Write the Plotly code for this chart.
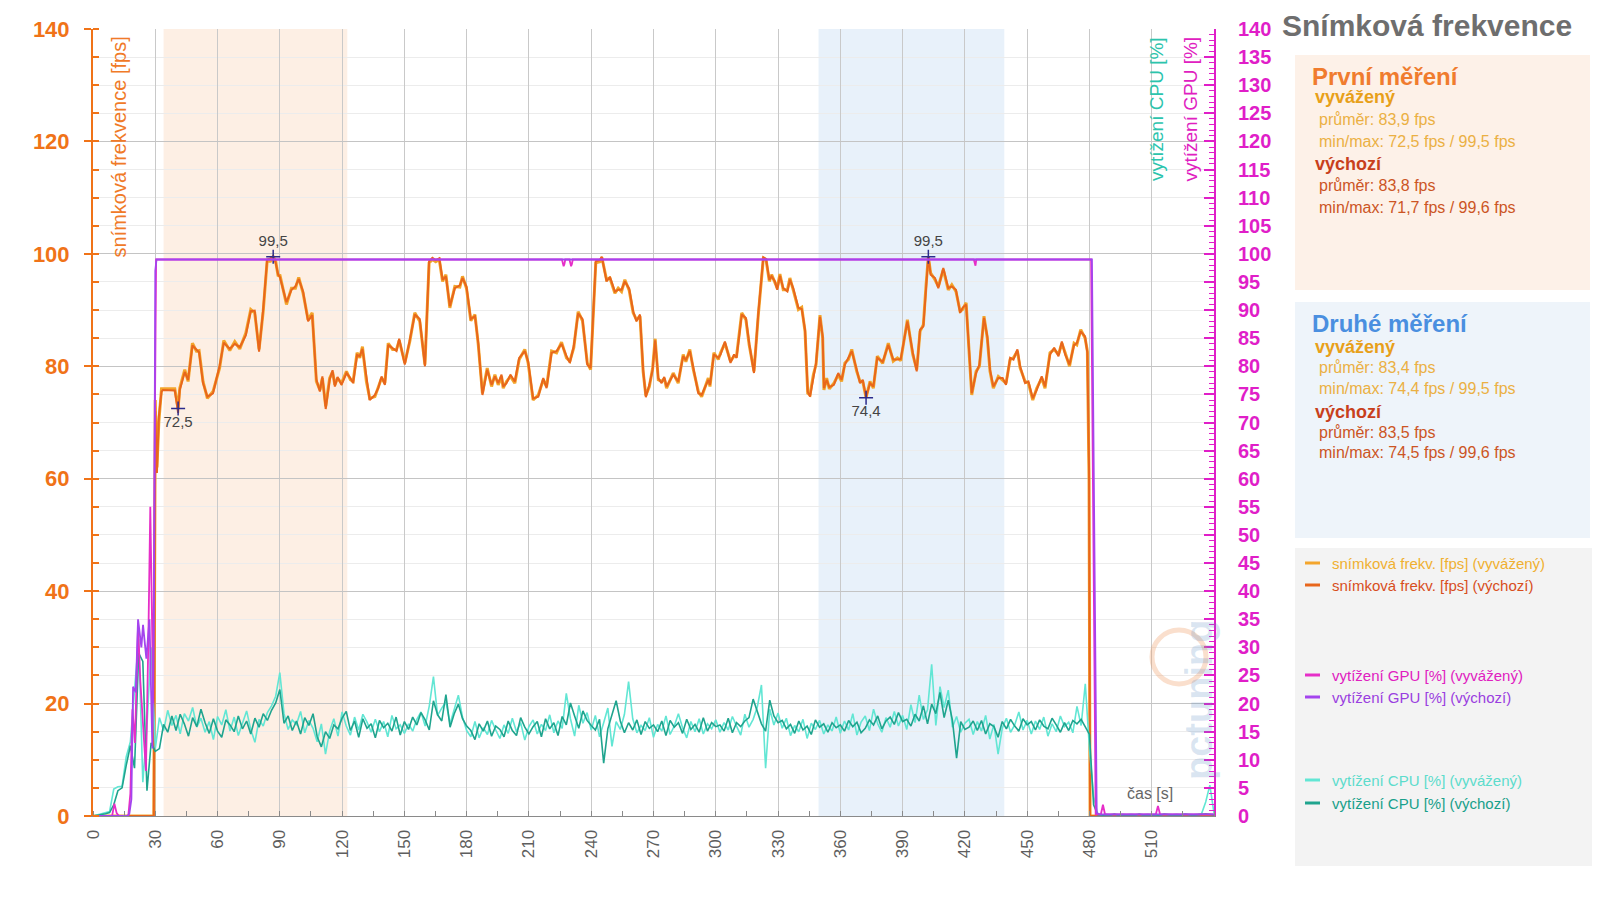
import plotly.graph_objects as go

# ---------------- DATA ----------------
fps_time = [
    0, 29.3, 30, 30.8, 31.7, 33, 33.7, 39.4, 41, 41.8,
    44.2, 45.8, 47.9, 49.8, 51.1, 53, 55.1, 57.8, 61, 63,
    65.9, 68.3, 70.7, 73.6, 76, 77.9, 80, 82, 83.9, 85.5,
    86.8, 88, 89.2, 90, 93.2, 95.6, 97.5, 99.1, 101.2, 103.6,
    105.6, 107.6, 109.3, 110.5, 112.1, 114, 115.4, 116.5, 117.8, 119.7,
    122.1, 124, 125.3, 127.2, 128.5, 129.8, 131.7, 133.3, 135.8, 137.4,
    139, 140.6, 142.2, 144.3, 146.2, 147.5, 150.2, 152.6, 155, 157.4,
    159.9, 161.9, 163.5, 165.1, 166.8, 168.4, 170, 171.9, 174.3, 176.7,
    178, 179.9, 182, 184, 185.6, 187.6, 189.9, 192, 193.6, 195.2,
    196.8, 197.6, 199.2, 201.1, 203.2, 205.3, 208, 209.6, 212, 214.5,
    216.9, 218.5, 220.9, 223.3, 225.7, 228.1, 229.7, 231.6, 233.7, 235.8,
    238.1, 239.7, 242.2, 244.2, 245.1, 247.4, 249, 251.4, 253, 254.6,
    256.2, 258.3, 260.2, 261.8, 263.5, 265, 266.3, 268, 269.6, 270.8,
    272.3, 273.9, 275.2, 276.3, 279.5, 281.9, 284.3, 285.6, 287.5, 289.2,
    291.6, 293.2, 294.8, 296.4, 297.2, 299.1, 301.2, 302.3, 304.4, 307.1,
    308.8, 310, 312.5, 314.5, 316.1, 318.4, 320.5, 321.6, 322.9, 324.2,
    325.8, 326.9, 328.5, 329.6, 330.9, 332.5, 334.5, 335.7, 337.3, 339.8,
    341.4, 343, 344.3, 345.4, 347, 348.3, 350.2, 351.5, 352.1, 353.4,
    354.7, 356.9, 359, 360.6, 362.2, 363.9, 365.5, 367.9, 369.5, 370.8,
    372.4, 374.3, 375.9, 377.8, 380.4, 383.1, 385.5, 387.5, 389.1, 392.3,
    394.9, 396.8, 398.4, 400, 401.3, 402.4, 403.5, 405.6, 407.2, 409.6,
    412, 413.7, 415.7, 417.7, 418.9, 420.6, 422.2, 423.3, 425.4, 427,
    429.2, 430.8, 432.1, 433.7, 436.1, 438.2, 439.8, 441.8, 443.4, 445.3,
    446.6, 449, 450.6, 452.7, 454.6, 457, 458.6, 461, 463, 465.1,
    466.7, 468.3, 470.4, 472.6, 473.9, 475.8, 477.9, 479, 479.8, 480.3,
    540,
]
fps_vyvazeny = [
    0, 0, 74, 62, 70, 76, 76.0, 76.0, 72.5, 76.1,
    79.4, 77.3, 84.1, 82.7, 82.8, 77.3, 74.3, 75.5, 79.7, 84.6,
    82.8, 84.4, 83.1, 85.9, 90.1, 89.5, 83.0, 89.8, 98.8, 98.7,
    99.5, 98.7, 96.0, 96.3, 91.0, 93.9, 93.9, 95.8, 93.0, 88.3,
    89.5, 77.3, 75.8, 77.9, 72.9, 77.9, 79.0, 76.7, 77.9, 77.0,
    79.1, 77.6, 77.3, 82.4, 81.5, 83.5, 77.3, 74.3, 74.6, 76.4,
    77.9, 77.0, 84.1, 83.0, 83.0, 84.6, 80.6, 84.4, 89.5, 88.0,
    80.3, 98.4, 99.0, 98.6, 99.0, 95.1, 96.3, 90.4, 94.2, 94.1,
    96.0, 93.9, 88.1, 89.2, 83.8, 75.2, 79.7, 76.4, 78.5, 76.7,
    78.2, 76.1, 77.3, 78.2, 77.0, 81.2, 83.0, 80.6, 74.0, 74.9,
    77.6, 76.4, 82.7, 82.4, 84.3, 81.5, 80.9, 83.3, 89.7, 88.1,
    80.6, 79.4, 98.4, 98.6, 99.4, 95.4, 95.7, 93.0, 93.9, 93.3,
    95.4, 93.5, 89.5, 88.3, 88.9, 79.1, 74.8, 76.4, 79.7, 84.9,
    77.6, 77.3, 77.8, 76.1, 78.8, 77.0, 82.1, 80.8, 83.0, 79.4,
    75.5, 74.6, 76.1, 77.9, 76.4, 82.4, 81.2, 82.4, 84.1, 80.9,
    81.8, 81.8, 89.5, 88.3, 83.8, 79.1, 89.2, 93.9, 99.2, 99.0,
    95.1, 96.3, 94.8, 93.9, 96.4, 93.6, 93.6, 95.7, 93.6, 90.1,
    90.5, 86.2, 75.2, 74.9, 78.5, 80.3, 89.1, 85.0, 75.8, 77.9,
    76.0, 77.0, 78.5, 77.3, 80.6, 81.2, 83.0, 79.1, 77.3, 77.3,
    74.4, 77.3, 76.1, 81.8, 80.5, 84.1, 80.9, 81.5, 81.0, 88.3,
    82.1, 79.4, 86.2, 87.4, 94.5, 99.5, 96.6, 95.4, 94.2, 97.2,
    93.6, 94.5, 93.3, 89.8, 90.1, 91.3, 81.5, 74.9, 79.1, 80.0,
    88.9, 85.0, 79.1, 76.1, 78.2, 77.6, 77.0, 81.2, 81.5, 82.7,
    79.7, 77.3, 77.0, 74.0, 76.1, 77.9, 76.1, 82.4, 83.0, 82.1,
    84.1, 82.4, 80.0, 84.1, 83.8, 86.5, 85.0, 82.7, 60, 0,
    0,
]
fps_vychozi = [
    0, 0, 72, 61, 71, 75.5, 75.8, 75.7, 71.7, 75.8,
    79.0, 77.6, 83.7, 82.9, 82.5, 77.0, 74.6, 75.2, 80.1, 84.2,
    83.1, 84.0, 83.4, 85.5, 89.8, 89.9, 82.6, 90.2, 99.0, 99.2,
    99.6, 98.4, 96.3, 95.9, 91.4, 93.6, 94.2, 95.5, 93.3, 88.0,
    89.1, 77.7, 75.5, 78.2, 72.4, 77.6, 79.3, 76.4, 78.1, 76.7,
    78.8, 77.9, 77.0, 82.0, 81.8, 83.1, 77.6, 74.0, 74.9, 76.1,
    78.2, 76.7, 83.8, 83.3, 82.7, 84.9, 80.3, 84.7, 89.2, 88.4,
    80.0, 98.7, 99.3, 98.9, 99.2, 95.4, 96.0, 90.7, 93.9, 94.4,
    95.7, 94.2, 88.4, 88.9, 84.1, 74.9, 79.4, 76.7, 78.2, 77.0,
    78.5, 76.4, 77.0, 78.5, 77.3, 81.5, 82.7, 80.9, 74.3, 74.6,
    77.9, 76.1, 82.4, 82.7, 84.0, 81.8, 80.6, 83.6, 89.4, 88.4,
    80.3, 79.7, 98.7, 98.9, 99.5, 95.1, 95.9, 93.3, 93.6, 93.6,
    95.1, 93.8, 89.8, 88.0, 89.2, 79.4, 74.5, 76.7, 79.4, 84.6,
    77.9, 77.0, 78.1, 76.4, 78.5, 77.3, 81.8, 81.1, 82.7, 79.7,
    75.2, 74.9, 76.4, 77.6, 76.7, 82.1, 81.5, 82.1, 84.4, 80.6,
    82.1, 81.5, 89.2, 88.6, 84.1, 78.8, 89.5, 94.2, 99.4, 99.1,
    95.4, 96.0, 95.1, 93.6, 96.1, 93.9, 93.3, 95.4, 93.9, 90.4,
    90.2, 86.5, 75.5, 74.6, 78.2, 80.6, 88.8, 85.3, 76.1, 77.6,
    76.3, 76.7, 78.8, 77.6, 80.3, 81.5, 82.7, 79.4, 77.0, 77.6,
    74.5, 77.0, 76.4, 81.5, 80.8, 83.8, 81.2, 81.2, 81.3, 88.0,
    82.4, 79.1, 86.5, 87.1, 94.8, 99.6, 96.3, 95.7, 93.9, 97.5,
    93.9, 94.2, 93.6, 89.5, 90.4, 91.0, 81.8, 75.2, 78.8, 80.3,
    88.6, 85.3, 79.4, 76.4, 77.9, 77.9, 76.7, 81.5, 81.2, 83.0,
    80.0, 77.0, 77.3, 74.3, 75.8, 78.2, 76.4, 82.1, 83.3, 81.8,
    84.4, 82.1, 80.3, 83.8, 84.1, 86.2, 85.3, 82.4, 62, 0,
    0,
]

gpu_vyv_time = [
    0, 9.2, 10.3, 11.4, 12.5, 17.0, 18.0, 19.0, 20.2, 21.7,
    22.8, 24.0, 25.5, 26.6, 27.6, 28.3, 29.0, 29.8, 30.4, 225.9,
    226.3, 226.7, 227.1, 227.5, 229.5, 229.9, 230.3, 230.7, 231.1, 424.3,
    424.7, 425.1, 425.5, 480.8, 483.0, 485.5, 486.5, 487.5, 512.0, 513.0,
    514.0, 540,
]
gpu_vyvazeny = [
    0, 0, 2.2, 0.5, 0, 0, 4, 19, 13, 34,
    24, 16, 8, 30, 55, 38, 20, 70, 99, 99,
    98.2, 97.8, 98.2, 99, 99, 98.2, 97.8, 98.2, 99, 99,
    98.2, 97.9, 99, 99, 0.3, 0.3, 2.0, 0.3, 0.3, 1.8,
    0.3, 0.3,
]
gpu_vych_time = [0, 16.5, 17.5, 18.5, 19.3, 20.6, 21.7, 23.3, 24.1, 25.7,
                 27.2, 28.6, 29.4, 30.0, 30.6, 481.2, 483.5, 485, 540]
gpu_vychozi = [0, 0, 0.4, 3, 23, 22, 35, 30, 34, 28,
               35, 12, 40, 97, 99, 99, 0.5, 0.3, 0.3]

cpu_time = list(range(0, 541, 2))
cpu_vyv_pre = [0, 0.2, 0.3, 0.5, 0.8, 4.8, 5.2, 5.3, 10.5, 13.2, 22.0, 31.5, 6.0, 16.0, 30.0, 12.0]
cpu_vyv_main = [
    17.5, 15.2, 18.8, 16.1, 17.9, 14.6, 18.2, 16.9, 19.3, 15.8, 17.4, 14.9, 16.8, 13.6, 17.7,
    16.2, 18.9, 15.1, 17.6, 14.3, 16.5, 18.7, 15.4, 13.1, 17.2, 16.0, 18.4, 19.6, 21.3, 25.5,
    18.2, 15.4, 17.1, 16.3, 18.6, 14.8, 17.0, 15.6, 13.2, 16.4, 11.0, 15.1, 17.3, 14.2, 18.5,
    16.0, 14.4, 17.6, 15.3, 18.1, 16.7, 14.9, 17.2, 15.0, 16.8, 14.1, 17.9, 15.5, 16.2, 14.7,
    16.4, 15.1, 17.2, 18.5, 16.0, 19.6, 24.8, 17.9, 19.2, 20.3, 16.4, 18.8, 21.5, 17.6, 15.2,
    14.1, 16.8, 13.9, 15.7, 14.5, 17.0, 15.3, 13.8, 16.2, 14.7, 17.4, 15.0, 16.6, 13.5, 15.9,
    17.1, 14.6, 16.3, 15.2, 18.0, 14.8, 16.9, 15.6, 21.8, 17.3, 14.2, 19.7, 16.5, 18.4, 15.3,
    17.9, 14.1, 16.6, 19.2, 12.4, 16.8, 15.4, 18.1, 23.9, 17.3, 14.8, 16.1, 15.2, 17.5, 14.0,
    16.3, 15.1, 17.8, 14.5, 16.0, 18.2, 15.7, 13.9, 16.8, 15.0, 17.3, 14.6, 16.4, 15.5, 17.1,
    14.9, 16.6, 15.3, 17.7, 16.0, 14.4, 18.1, 15.8, 17.2, 19.4, 23.3, 8.5, 19.0, 16.2, 18.3,
    15.6, 17.4, 14.3, 16.1, 15.0, 17.2, 13.8, 16.5, 15.4, 17.0, 14.6, 16.2, 15.1, 17.6, 14.7,
    16.9, 15.3, 18.2, 14.4, 16.7, 17.8, 15.2, 19.0, 16.4, 14.9, 17.5, 15.8, 18.6, 16.0, 17.9,
    15.4, 19.8, 16.6, 21.5, 17.2, 18.9, 27.0, 16.1, 23.0, 19.3, 22.4, 15.8, 17.7, 14.9, 16.5,
    17.2, 14.5, 16.8, 15.1, 17.9, 13.7, 16.3, 11.0, 15.6, 17.4, 14.9, 16.2, 18.5, 15.3, 17.0,
    14.6, 16.9, 15.4, 17.6, 14.2, 16.4, 15.0, 17.8, 15.9, 16.7, 14.8, 19.5, 16.1, 23.5, 12.0,
]
cpu_vyv_post = [3.5, 0.3, 0.2, 0.3, 0.2, 0.4, 0.2, 0.3, 0.2, 0.3,
                0.2, 0.4, 0.2, 0.3, 0.2, 0.3, 0.2, 0.4, 0.3, 0.2,
                0.3, 0.2, 0.4, 0.3, 0.2, 0.3, 0.4, 2.5, 5.5, 0.5]

cpu_vych_pre = [0, 0.1, 0.2, 0.4, 0.6, 2.0, 4.5, 5.0, 9.0, 12.5, 8.5, 29.0, 27.5, 4.5, 13.0, 11.5]
cpu_vych_main = [
    12.0, 16.3, 14.9, 17.8, 15.2, 18.1, 16.4, 14.2, 17.5, 15.9, 19.0, 16.6, 14.7, 17.3, 15.1,
    14.0, 17.1, 16.2, 15.0, 17.8, 15.5, 16.9, 14.6, 17.4, 15.8, 18.2, 17.0, 18.8, 20.1, 22.5,
    16.5, 17.8, 15.2, 16.9, 14.6, 17.5, 16.1, 18.2, 14.1, 12.3, 15.0, 13.8, 16.2, 15.5, 17.4,
    18.6, 15.2, 16.9, 14.0, 17.3, 15.6, 16.4, 13.9, 17.0, 15.7, 16.5, 15.1, 17.6, 14.4, 16.8,
    15.4, 17.6, 16.2, 18.4, 17.1, 15.3, 20.5, 18.0, 16.9, 21.6, 15.8, 18.2, 19.9, 17.3, 16.0,
    15.2, 13.6, 16.4, 15.1, 16.9, 14.2, 16.0, 15.4, 14.1, 16.9, 15.2, 14.3, 17.5, 15.8, 14.6,
    15.9, 16.8, 14.1, 17.3, 15.5, 16.6, 14.3, 17.7, 16.2, 20.1, 17.8, 15.6, 18.7, 17.0, 16.1,
    15.3, 17.2, 9.4, 15.5, 18.0, 20.5, 16.9, 14.8, 16.6, 15.3, 17.1, 14.5, 16.8, 15.6, 16.2,
    15.0, 16.9, 14.3, 17.0, 15.8, 16.6, 14.7, 17.2, 15.4, 16.3, 14.9, 17.5, 15.1, 16.6, 15.9,
    16.2, 15.1, 17.4, 14.8, 16.6, 15.9, 16.9, 17.5, 20.8, 18.6, 16.4, 15.1, 20.6, 17.8, 16.6,
    17.0, 15.5, 16.3, 14.7, 16.9, 15.3, 16.0, 14.5, 17.1, 15.8, 16.4, 14.9, 16.6, 15.7, 16.2,
    15.1, 17.0, 15.9, 16.7, 14.8, 15.6, 17.1, 16.2, 17.8, 15.5, 16.9, 17.6, 16.3, 18.4, 16.8,
    17.2, 16.0, 18.1, 16.9, 19.6, 16.4, 19.9, 18.2, 22.0, 17.5, 20.6, 17.0, 10.3, 16.8, 15.4,
    15.8, 16.9, 15.2, 17.0, 14.6, 16.4, 15.9, 14.0, 16.8, 15.5, 17.2, 16.0, 15.1, 17.3, 16.2,
    16.8, 15.3, 17.1, 16.0, 15.5, 17.4, 16.2, 14.9, 16.6, 15.2, 17.0, 16.4, 17.2, 15.8, 14.5,
]
cpu_vych_post = [2.0, 0.2, 0.1, 0.2, 0.1, 0.3, 0.1, 0.2, 0.1, 0.2,
                 0.1, 0.3, 0.1, 0.2, 0.1, 0.2, 0.1, 0.3, 0.2, 0.1,
                 0.2, 0.1, 0.3, 0.2, 0.1, 0.2, 0.3, 0.4, 0.3, 0.2]

cpu_vyvazeny = cpu_vyv_pre + cpu_vyv_main + cpu_vyv_post
cpu_vychozi = cpu_vych_pre + cpu_vych_main + cpu_vych_post

extrema_time = [41, 86.8, 372.4, 402.4]
extrema_value = [72.5, 99.5, 74.4, 99.5]
extrema_label = ["72,5", "99,5", "74,4", "99,5"]
extrema_pos = ["bottom center", "top center", "bottom center", "top center"]

region_first = [34, 122.5]
region_second = [349.5, 439]

x_ticks = list(range(0, 540, 30))

stats_first = [("vyvážený", "průměr: 83,9 fps", "min/max: 72,5 fps / 99,5 fps"),
               ("výchozí", "průměr: 83,8 fps", "min/max: 71,7 fps / 99,6 fps")]
stats_second = [("vyvážený", "průměr: 83,4 fps", "min/max: 74,4 fps / 99,5 fps"),
                ("výchozí", "průměr: 83,5 fps", "min/max: 74,5 fps / 99,6 fps")]

# ---------------- STYLE ----------------
FONT = "Liberation Sans, Arial, sans-serif"
C_FPS_VYV = "#f3a52c"
C_FPS_VYCH = "#e8661c"
C_GPU_VYV = "#e62ec8"
C_GPU_VYCH = "#a444ee"
C_CPU_VYV = "#62e6d4"
C_CPU_VYCH = "#1fa48e"
C_ORANGE_AX = "#f07318"
C_MAGENTA_AX = "#e01ec8"

W, H = 1600, 902
L, R, T, B = 93, 1214, 29, 816


def fx(px):
    return (px - L) / (R - L)


def fy(py):
    return (B - py) / (B - T)


fig = go.Figure()

fig.add_trace(go.Scatter(x=cpu_time, y=cpu_vyvazeny, mode="lines", yaxis="y2",
                         line=dict(color=C_CPU_VYV, width=1.6), name="vytížení CPU [%] (vyvážený)"))
fig.add_trace(go.Scatter(x=cpu_time, y=cpu_vychozi, mode="lines", yaxis="y2",
                         line=dict(color=C_CPU_VYCH, width=1.6), name="vytížení CPU [%] (výchozí)"))
fig.add_trace(go.Scatter(x=gpu_vyv_time, y=gpu_vyvazeny, mode="lines", yaxis="y2",
                         line=dict(color=C_GPU_VYV, width=1.8),
                         name="vytížení GPU [%] (vyvážený)"))
fig.add_trace(go.Scatter(x=gpu_vych_time, y=gpu_vychozi, mode="lines", yaxis="y2",
                         line=dict(color=C_GPU_VYCH, width=1.8), name="vytížení GPU [%] (výchozí)"))
fig.add_trace(go.Scatter(x=fps_time, y=fps_vyvazeny, mode="lines",
                         line=dict(color=C_FPS_VYV, width=3), name="snímková frekv. [fps] (vyvážený)"))
fig.add_trace(go.Scatter(x=fps_time, y=fps_vychozi, mode="lines",
                         line=dict(color=C_FPS_VYCH, width=2), name="snímková frekv. [fps] (výchozí)"))
fig.add_trace(go.Scatter(x=extrema_time, y=extrema_value, mode="markers+text",
                         text=extrema_label, textposition=extrema_pos,
                         textfont=dict(family=FONT, size=15, color="#444444"),
                         marker=dict(symbol="cross-thin", size=10,
                                     line=dict(width=1.5, color="#2b2b8c")),
                         cliponaxis=False))

shapes = []
shapes.append(dict(type="rect", xref="x", yref="paper", x0=region_first[0], x1=region_first[1],
                   y0=0, y1=1, fillcolor="#fdefe4", line=dict(width=0), layer="below"))
shapes.append(dict(type="rect", xref="x", yref="paper", x0=region_second[0], x1=region_second[1],
                   y0=0, y1=1, fillcolor="#e8f1fa", line=dict(width=0), layer="below"))

# side panels
panels = [((1295, 55, 1590, 290), "#fdf1e8"),
          ((1295, 302, 1590, 538), "#eef4fa"),
          ((1295, 548, 1592, 866), "#f3f3f3")]
for (x0, y0, x1, y1), col in panels:
    shapes.append(dict(type="rect", xref="paper", yref="paper", x0=fx(x0), x1=fx(x1),
                       y0=fy(y1), y1=fy(y0), fillcolor=col, line=dict(width=0), layer="below"))

annotations = []


def txt(text, px, py, size, color, bold=False, xanchor="left", angle=0, yanchor="middle"):
    annotations.append(dict(text=text, xref="paper", yref="paper", x=fx(px), y=fy(py),
                            xanchor=xanchor, yanchor=yanchor, showarrow=False, textangle=angle,
                            font=dict(family=FONT, size=size, color=color,
                                      weight="bold" if bold else "normal")))


# watermark
shapes.append(dict(type="circle", xref="paper", yref="paper", x0=fx(1152), x1=fx(1206),
                   y0=fy(684), y1=fy(630), line=dict(color="rgba(240,150,90,0.3)", width=5)))
txt("pctuning", 1199, 700, 38, "rgba(90,140,195,0.22)", bold=True, xanchor="center", angle=-90)

txt("Snímková frekvence", 1280, 25, 30, "#6e6e6e", bold=True)

# panel texts
txt("První měření", 1310, 76, 24, "#f07c2e", bold=True)
txt("Druhé měření", 1310, 323, 24, "#4a8fe0", bold=True)
rows_first = [97, 119, 141, 164, 185, 207]
rows_second = [347, 367, 388, 412, 432, 453]
head_cols = ["#e8a019", "#c8401c"]
body_cols = ["#ebb043", "#cc5524"]
for stats, rows in ((stats_first, rows_first), (stats_second, rows_second)):
    for i, (head, avg, mm) in enumerate(stats):
        txt(head, 1313, rows[3 * i], 18, head_cols[i], bold=True)
        txt(avg, 1317, rows[3 * i + 1], 16, body_cols[i])
        txt(mm, 1317, rows[3 * i + 2], 16, body_cols[i])

# legend entries
legend_items = [("snímková frekv. [fps] (vyvážený)", C_FPS_VYV, 563, "#f0b030"),
                ("snímková frekv. [fps] (výchozí)", C_FPS_VYCH, 585, "#d84e1c"),
                ("vytížení GPU [%] (vyvážený)", C_GPU_VYV, 675, "#e020c0"),
                ("vytížení GPU [%] (výchozí)", C_GPU_VYCH, 697, "#9a3ee0"),
                ("vytížení CPU [%] (vyvážený)", C_CPU_VYV, 780, "#5cdccc"),
                ("vytížení CPU [%] (výchozí)", C_CPU_VYCH, 803, "#18a08a")]
for label, lc, py, tc in legend_items:
    shapes.append(dict(type="line", xref="paper", yref="paper", x0=fx(1305), x1=fx(1320),
                       y0=fy(py), y1=fy(py), line=dict(color=lc, width=3)))
    txt(label, 1330, py, 15, tc)

# axis titles
txt("snímková frekvence [fps]", 118, 35, 20, "#f07a28", xanchor="center", angle=-90, yanchor="top")
txt("vytížení CPU [%]", 1156, 35, 19, "#2cc4ad", xanchor="center", angle=-90, yanchor="top")
txt("vytížení GPU [%]", 1190, 35, 19, "#e020c0", xanchor="center", angle=-90, yanchor="top")
txt("čas [s]", 1150, 793, 16, "#666666", xanchor="center")

fig.update_layout(
    width=W, height=H,
    margin=dict(l=L, r=W - R, t=T, b=H - B, pad=0),
    paper_bgcolor="white", plot_bgcolor="white",
    showlegend=False,
    shapes=shapes, annotations=annotations,
    xaxis=dict(range=[0, 540], tickvals=x_ticks, tickangle=-90,
               tickfont=dict(family=FONT, size=17, color="#5e5e5e"),
               showgrid=True, gridcolor="#c9c9c9", gridwidth=1,
               showline=True, linecolor="#8a8a8a", linewidth=1, ticks="",
               ticklabelstandoff=6,
               minor=dict(dtick=15, ticks="inside", ticklen=5, tickcolor="#8a8a8a", showgrid=False),
               zeroline=False),
    yaxis=dict(range=[0, 140], dtick=20, showgrid=True, gridcolor="#c4c4c4", gridwidth=1,
               tickfont=dict(family=FONT, size=22, color=C_ORANGE_AX, weight="bold"),
               showline=True, linecolor=C_ORANGE_AX, linewidth=2,
               ticks="outside", ticklen=7, tickcolor=C_ORANGE_AX, tickwidth=2,
               ticklabelstandoff=10,
               minor=dict(dtick=5, ticks="inside", ticklen=6, tickcolor=C_ORANGE_AX,
                          showgrid=True, gridcolor="#ececec"),
               zeroline=False),
    yaxis2=dict(range=[0, 140], dtick=5, overlaying="y", side="right", showgrid=False,
                tickfont=dict(family=FONT, size=20, color=C_MAGENTA_AX, weight="bold"),
                showline=True, linecolor=C_MAGENTA_AX, linewidth=2,
                ticks="inside", ticklen=10, tickcolor=C_MAGENTA_AX, tickwidth=2,
                ticklabelstandoff=18,
                minor=dict(dtick=1, ticks="inside", ticklen=5, tickcolor=C_MAGENTA_AX, tickwidth=1),
                zeroline=False),
)

fig.write_html("out.html", config={"displayModeBar": False},
               post_script="document.body.style.margin='0';document.body.style.overflow='hidden';")
